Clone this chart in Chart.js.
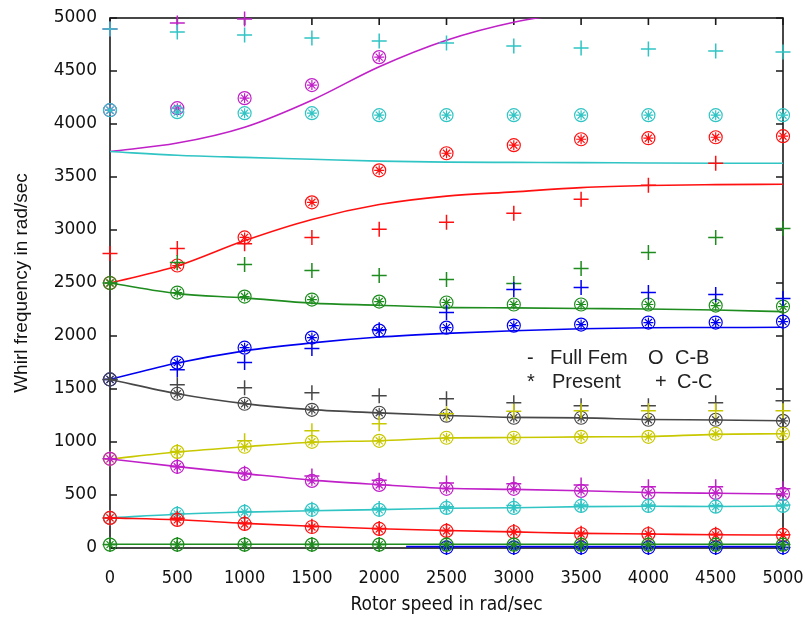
<!DOCTYPE html>
<html>
<head>
<meta charset="utf-8">
<script src="https://cdn.jsdelivr.net/npm/chart.js@4.4.1/dist/chart.umd.min.js"></script>
<style>
  html, body { margin: 0; padding: 0; background: #fff; }
  #box { width: 805px; height: 619px; }
</style>
</head>
<body>
<div id="box"><canvas id="graph" width="805" height="619"></canvas></div>
<script>
// Rotor speeds (rad/sec)
const speeds = [0, 500, 1000, 1500, 2000, 2500, 3000, 3500, 4000, 4500, 5000];
const speedsLateLine = [2200, 2500, 3000, 3500, 4000, 4500, 5000];
const speedsLate = [2500, 3000, 3500, 4000, 4500, 5000];
const speedsEarly = [0, 500, 1000, 1500, 2000];
const speedsFirst = [0, 500, 1000];

const yTicks = [0, 500, 1000, 1500, 2000, 2500, 3000, 3500, 4000, 4500, 5000];

// Full FEM (lines)
const femGreenLow   = [35, 35, 35, 35, 35, 35, 35, 35, 35, 35, 35];
const femBlueLow    = [13, 13, 13, 13, 13, 13, 13];
const femRedLow     = [284, 266, 232, 205, 182, 165, 152, 138, 132, 125, 122];
const femCyanLow    = [284, 318, 338, 352, 362, 375, 380, 390, 394, 392, 396];
const femMagentaLow = [840, 768, 702, 640, 598, 563, 553, 540, 524, 516, 510];
const femYellow     = [840, 905, 955, 998, 1012, 1038, 1042, 1048, 1052, 1072, 1078];
const femBlack      = [1590, 1455, 1362, 1305, 1275, 1250, 1232, 1228, 1212, 1208, 1200];
const femBlue       = [1590, 1745, 1860, 1935, 1990, 2025, 2050, 2068, 2078, 2080, 2082];
const femGreen      = [2500, 2400, 2360, 2310, 2290, 2270, 2265, 2260, 2255, 2245, 2230];
const femRed        = [2500, 2660, 2900, 3100, 3240, 3320, 3360, 3400, 3420, 3428, 3432];
const femCyan       = [3740, 3705, 3685, 3668, 3650, 3640, 3638, 3636, 3632, 3630, 3630];
const femMagenta    = [3740, 3820, 3970, 4225, 4540, 4790, 4960, 5060, 5130, 5180, 5220];

// Present / C-B (circles with star, same points)
const mkGreenLow   = [32, 32, 32, 32, 32, 32, 32, 32, 32, 32, 32];
const mkBlueLow    = [5, 5, 5, 5, 5, 5];
const mkRedLow     = [284, 265, 227, 198, 180, 161, 151, 132, 132, 123, 123];
const mkCyanLow    = [284, 321, 340, 360, 360, 378, 378, 397, 397, 390, 397];
const mkMagentaLow = [841, 766, 699, 633, 595, 558, 558, 539, 520, 520, 510];
const mkYellow     = [841, 907, 955, 1002, 1011, 1040, 1040, 1049, 1049, 1078, 1078];
const mkBlack      = [1590, 1455, 1361, 1304, 1276, 1248, 1229, 1229, 1210, 1210, 1200];
const mkBlue       = [1590, 1749, 1890, 1985, 2051, 2079, 2098, 2108, 2127, 2127, 2136];
const mkGreen      = [2500, 2410, 2372, 2344, 2325, 2316, 2297, 2297, 2297, 2287, 2278];
const mkRed        = [2500, 2665, 2930, 3261, 3563, 3724, 3800, 3856, 3866, 3875, 3885];
const mkCyan       = [4130, 4112, 4102, 4102, 4083, 4083, 4083, 4083, 4083, 4083, 4083];
const mkMagenta    = [4130, 4149, 4244, 4367, 4631];

// C-C (plus signs)
const ccGreenLow   = [32, 32, 32, 32, 32, 32, 32, 32, 32, 32, 32];
const ccBlueLow    = [5, 5, 5, 5, 5, 5];
const ccRedLow     = [284, 280, 235, 205, 185, 165, 155, 140, 135, 130, 125];
const ccCyanLow    = [284, 325, 345, 365, 372, 390, 400, 405, 405, 400, 405];
const ccMagentaLow = [841, 770, 705, 680, 640, 614, 605, 595, 577, 577, 558];
const ccYellow     = [841, 910, 1011, 1106, 1172, 1266, 1290, 1295, 1295, 1295, 1295];
const ccBlack      = [1590, 1540, 1512, 1465, 1437, 1408, 1370, 1342, 1342, 1370, 1389];
const ccBlue       = [1590, 1682, 1749, 1881, 2060, 2221, 2439, 2457, 2410, 2391, 2353];
const ccGreen      = [2500, 2694, 2675, 2618, 2571, 2533, 2495, 2637, 2788, 2930, 3015];
const ccRed        = [2779, 2826, 2870, 2930, 3006, 3072, 3157, 3289, 3422, 3629, null];
const ccCyan       = [4896, 4868, 4839, 4811, 4783, 4764, 4735, 4716, 4707, 4688, 4679];
const ccMagenta    = [4896, 4953, 4990];

const GREEN = '#1e8c1e', BLUE = '#0000f0', RED = '#ff1010', CYAN = '#30c4c4',
      MAGENTA = '#c020c8', YELLOW = '#c8c800', BLACK = '#474747';

function points(xs, ys) {
    return xs.map((x, i) => (ys[i] == null ? null : { x: x, y: ys[i] })).filter(p => p);
}

// one entry per whirl mode
const modes = [
    { color: GREEN,   femX: speeds,         fem: femGreenLow,   mkX: speeds,      mk: mkGreenLow,   ccX: speeds,      cc: ccGreenLow },
    { color: BLUE,    femX: speedsLateLine, fem: femBlueLow,    mkX: speedsLate,  mk: mkBlueLow,    ccX: speedsLate,  cc: ccBlueLow },
    { color: RED,     femX: speeds,         fem: femRedLow,     mkX: speeds,      mk: mkRedLow,     ccX: speeds,      cc: ccRedLow },
    { color: CYAN,    femX: speeds,         fem: femCyanLow,    mkX: speeds,      mk: mkCyanLow,    ccX: speeds,      cc: ccCyanLow },
    { color: MAGENTA, femX: speeds,         fem: femMagentaLow, mkX: speeds,      mk: mkMagentaLow, ccX: speeds,      cc: ccMagentaLow },
    { color: YELLOW,  femX: speeds,         fem: femYellow,     mkX: speeds,      mk: mkYellow,     ccX: speeds,      cc: ccYellow },
    { color: BLACK,   femX: speeds,         fem: femBlack,      mkX: speeds,      mk: mkBlack,      ccX: speeds,      cc: ccBlack },
    { color: BLUE,    femX: speeds,         fem: femBlue,       mkX: speeds,      mk: mkBlue,       ccX: speeds,      cc: ccBlue },
    { color: GREEN,   femX: speeds,         fem: femGreen,      mkX: speeds,      mk: mkGreen,      ccX: speeds,      cc: ccGreen },
    { color: RED,     femX: speeds,         fem: femRed,        mkX: speeds,      mk: mkRed,        ccX: speeds,      cc: ccRed },
    { color: CYAN,    femX: speeds,         fem: femCyan,       mkX: speeds,      mk: mkCyan,       ccX: speeds,      cc: ccCyan },
    { color: MAGENTA, femX: speeds,         fem: femMagenta,    mkX: speedsEarly, mk: mkMagenta,    ccX: speedsFirst, cc: ccMagenta }
];

const datasets = [];
modes.forEach(m => {
    datasets.push({
        data: points(m.femX, m.fem),
        showLine: true,
        borderColor: m.color,
        borderWidth: 1.6,
        pointRadius: 0,
        cubicInterpolationMode: 'monotone'
    });
    datasets.push({
        data: points(m.mkX, m.mk),
        pointStyle: 'circle',
        pointRadius: 6.5,
        borderColor: m.color,
        backgroundColor: 'rgba(0,0,0,0)',
        borderWidth: 1.2,
        clip: false
    });
    datasets.push({
        data: points(m.mkX, m.mk),
        pointStyle: 'star',
        pointRadius: 5,
        borderColor: m.color,
        borderWidth: 1.2,
        clip: false
    });
    datasets.push({
        data: points(m.ccX, m.cc),
        pointStyle: 'cross',
        pointRadius: 7.5,
        borderColor: m.color,
        borderWidth: 1.5,
        clip: false
    });
});

// gnuplot style frame with inward ticks
const cadre = {
    id: 'cadre',
    beforeDatasetsDraw(chart) {
        const { ctx, chartArea: a, scales } = chart;
        ctx.save();
        ctx.strokeStyle = '#1a1a1a';
        ctx.lineWidth = 1.6;
        ctx.strokeRect(a.left, a.top, a.right - a.left, a.bottom - a.top);
        ctx.beginPath();
        scales.x.ticks.forEach(t => {
            const px = scales.x.getPixelForValue(t.value);
            ctx.moveTo(px, a.top); ctx.lineTo(px, a.top + 7);
            ctx.moveTo(px, a.bottom); ctx.lineTo(px, a.bottom - 7);
        });
        scales.y.ticks.forEach(t => {
            const py = scales.y.getPixelForValue(t.value);
            ctx.moveTo(a.left, py); ctx.lineTo(a.left + 7, py);
            ctx.moveTo(a.right, py); ctx.lineTo(a.right - 7, py);
        });
        ctx.stroke();
        ctx.restore();
    }
};

// text legend inside the plot
const legendeTexte = {
    id: 'legendeTexte',
    afterDraw(chart) {
        const ctx = chart.ctx;
        const rows = [
            { y: 358, items: [['-', 527], ['Full Fem', 550], ['O', 648], ['C-B', 675]] },
            { y: 382, items: [['*', 527], ['Present', 552], ['+', 655], ['C-C', 677]] }
        ];
        ctx.save();
        ctx.fillStyle = '#222';
        ctx.font = '20px "Liberation Sans", Arial, sans-serif';
        ctx.textBaseline = 'middle';
        ctx.textAlign = 'left';
        rows.forEach(r => r.items.forEach(it => ctx.fillText(it[0], it[1], r.y)));
        ctx.restore();
    }
};

const narrow = '"Liberation Sans Narrow", "DejaVu Sans Condensed", sans-serif';

new Chart(document.getElementById('graph').getContext('2d'), {
    type: 'scatter',
    data: { datasets: datasets },
    options: {
        responsive: false,
        animation: false,
        layout: { padding: { top: 18, right: 22, left: 0, bottom: 0 } },
        plugins: { legend: { display: false }, tooltip: { enabled: false } },
        scales: {
            x: {
                type: 'linear', min: 0, max: 5000,
                afterBuildTicks: s => { s.ticks = speeds.map(v => ({ value: v })); },
                afterFit: s => { s.height = 71; s.paddingLeft = 0; s.paddingRight = 0; },
                grid: { display: false, drawTicks: false },
                border: { display: false },
                ticks: { color: '#111', padding: 20, font: { family: narrow, size: 18 },
                         callback: v => String(v) },
                title: { display: true, text: 'Rotor speed in rad/sec', color: '#111',
                         padding: { top: 0, bottom: 3 }, font: { family: narrow, size: 19 } }
            },
            y: {
                type: 'linear', min: 0, max: 5000,
                afterBuildTicks: s => { s.ticks = yTicks.map(v => ({ value: v })); },
                afterFit: s => { s.width = 110; s.paddingTop = 0; s.paddingBottom = 0; },
                grid: { display: false, drawTicks: false },
                border: { display: false },
                ticks: { color: '#111', padding: 13, font: { family: 'DejaVu Sans', size: 17 },
                         callback: v => String(v) },
                title: { display: true, text: 'Whirl frequency in rad/sec', color: '#111',
                         padding: { top: 10, bottom: 0 }, font: { family: '"Liberation Sans", Arial, sans-serif', size: 19 } }
            }
        }
    },
    plugins: [cadre, legendeTexte]
});
</script>
</body>
</html>
